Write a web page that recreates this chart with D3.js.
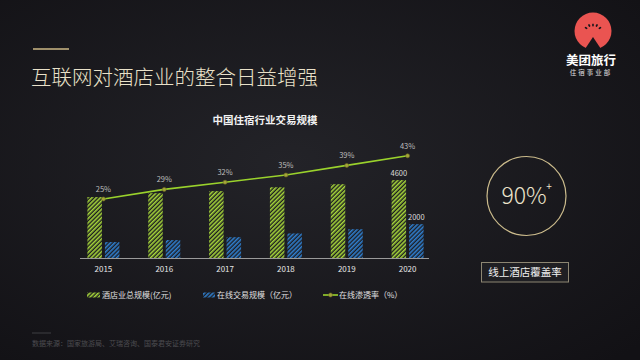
<!DOCTYPE html>
<html><head><meta charset="utf-8">
<script src="https://cdn.jsdelivr.net/npm/d3@7"></script>
<style>
html,body{margin:0;padding:0;background:#17161b;}
svg{display:block;font-family:"Noto Sans CJK SC","Noto Sans",sans-serif;}
</style></head>
<body>
<script>
const years = ['2015','2016','2017','2018','2019','2020'];
const hotelTotal = [3600, 3830, 3950, 4180, 4360, 4600];
const onlineVolume = [940, 1060, 1230, 1450, 1700, 2000];
const penetration = [25, 29, 32, 35, 39, 43];
const labeledBars = ['2020'];
const legendLabels = ['酒店业总规模(亿元)', '在线交易规模（亿元）', '在线渗透率（%）'];

const W = 640, H = 360;
const svg = d3.select('body').append('svg').attr('width', W).attr('height', H);
const defs = svg.append('defs');

const bg = defs.append('radialGradient').attr('id','bg').attr('cx','45%').attr('cy','45%').attr('r','75%');
bg.append('stop').attr('offset','0%').attr('stop-color','#232328');
bg.append('stop').attr('offset','100%').attr('stop-color','#121115');
svg.append('rect').attr('width',W).attr('height',H).attr('fill','url(#bg)');

function hatch(id, color){
  const p = defs.append('pattern').attr('id',id).attr('patternUnits','userSpaceOnUse')
    .attr('width',3).attr('height',3).attr('patternTransform','rotate(45)');
  p.append('rect').attr('width',3).attr('height',3).attr('fill','#1c1c20');
  p.append('rect').attr('width',1.6).attr('height',3).attr('fill',color);
}
hatch('hg','#a6d63a');
hatch('hb','#2f7fd0');

// header
svg.append('line').attr('x1',33).attr('x2',69).attr('y1',49).attr('y2',49).attr('stroke','#cdb886').attr('stroke-width',1.5);
svg.append('text').attr('x',31).attr('y',85).attr('font-size',20.5).attr('font-weight',300)
  .attr('fill','#e9e1c9').text('互联网对酒店业的整合日益增强');

// logo
const lg = svg.append('g');
lg.append('circle').attr('cx',593).attr('cy',31).attr('r',18.5).attr('fill','#ea5451');
lg.append('path').attr('d','M593,37 L583,52 L603,52 Z').attr('fill','#17161b');
[[-60,8],[-30,7.5],[0,7],[30,7.5],[60,8]].forEach(([a,r])=>{
  const rad = (a-90)*Math.PI/180;
  lg.append('ellipse').attr('cx',593+r*Math.cos(rad)).attr('cy',32+r*Math.sin(rad))
    .attr('rx',1.5).attr('ry',0.9).attr('fill','#17161b')
    .attr('transform',`rotate(${a+90},${593+r*Math.cos(rad)},${32+r*Math.sin(rad)})`);
});
lg.append('text').attr('x',591).attr('y',64.5).attr('text-anchor','middle').attr('font-size',12.5)
  .attr('font-weight',700).attr('fill','#ffffff').text('美团旅行');
lg.append('text').attr('x',591).attr('y',75).attr('text-anchor','middle').attr('font-size',6.5)
  .attr('letter-spacing',2).attr('fill','#e0e0e0').text('住宿事业部');

// chart
const baseY = 258;
const x = d3.scaleBand().domain(years).range([73, 438]).paddingInner(0).paddingOuter(0);
const y = d3.scaleLinear().domain([0, 7000]).range([baseY, baseY - 118.5]);
const y2 = d3.scaleLinear().domain([0, 50]).range([baseY + 1, baseY + 1 - 120]);
const barW = 14.5, gap = 3;

svg.append('text').attr('x',265).attr('y',124).attr('text-anchor','middle').attr('font-size',10.5)
  .attr('font-weight',700).attr('fill','#f2f2f2').text('中国住宿行业交易规模');

const cx = d => x(d) + x.bandwidth()/2;

svg.append('g').selectAll('rect').data(years).join('rect')
  .attr('x', d => cx(d) - gap/2 - barW).attr('width', barW)
  .attr('y', (d,i) => y(hotelTotal[i])).attr('height', (d,i) => baseY - y(hotelTotal[i]))
  .attr('fill','url(#hg)');
svg.append('g').selectAll('rect').data(years).join('rect')
  .attr('x', d => cx(d) + gap/2).attr('width', barW)
  .attr('y', (d,i) => y(onlineVolume[i])).attr('height', (d,i) => baseY - y(onlineVolume[i]))
  .attr('fill','url(#hb)');

// x axis
const xa = svg.append('g').attr('transform',`translate(0,${baseY})`)
  .call(d3.axisBottom(x).tickSize(0).tickPadding(8));
xa.select('.domain').attr('stroke','#9a9a9a').attr('d','M80,0.5H429');
xa.selectAll('text').attr('fill','#e6e6e6').attr('font-size',8).attr('font-family','"Noto Sans CJK SC",sans-serif');

// bar labels
years.forEach((d,i)=>{
  if(!labeledBars.includes(d)) return;
  svg.append('text').attr('x', cx(d) - gap/2 - barW/2).attr('y', y(hotelTotal[i]) - 4.5)
    .attr('text-anchor','middle').attr('font-size',7.5).attr('fill','#dcdcdc').text(hotelTotal[i]);
  svg.append('text').attr('x', cx(d) + gap/2 + barW/2).attr('y', y(onlineVolume[i]) - 4.5)
    .attr('text-anchor','middle').attr('font-size',7.5).attr('fill','#dcdcdc').text(onlineVolume[i]);
});

// line
const line = d3.line().x(d => cx(d)).y((d,i) => y2(penetration[i]));
svg.append('path').datum(years).attr('d', line).attr('fill','none').attr('stroke','#9ad22c').attr('stroke-width',1.6);
svg.append('g').selectAll('circle').data(years).join('circle')
  .attr('cx', d => cx(d)).attr('cy', (d,i) => y2(penetration[i])).attr('r',2)
  .attr('fill','#a4a43a').attr('stroke','#6f7020').attr('stroke-width',0.6);
svg.append('g').selectAll('text').data(years).join('text')
  .attr('x', d => cx(d)).attr('y', (d,i) => y2(penetration[i]) - 7)
  .attr('text-anchor','middle').attr('font-size',7.5).attr('fill','#bdbdbd')
  .text((d,i) => penetration[i] + '%');

// legend
const legY = 295;
svg.append('rect').attr('x',87).attr('y',legY-2.5).attr('width',13).attr('height',5).attr('fill','url(#hg)');
svg.append('text').attr('x',102).attr('y',legY+3).attr('font-size',8).attr('fill','#e0e0e0').text(legendLabels[0]);
svg.append('rect').attr('x',203).attr('y',legY-2.5).attr('width',12).attr('height',5).attr('fill','url(#hb)');
svg.append('text').attr('x',217).attr('y',legY+3).attr('font-size',8).attr('fill','#e0e0e0').text(legendLabels[1]);
svg.append('line').attr('x1',323).attr('x2',338).attr('y1',legY).attr('y2',legY).attr('stroke','#9ad22c').attr('stroke-width',1.6);
svg.append('circle').attr('cx',330.5).attr('cy',legY).attr('r',2).attr('fill','#a4a43a').attr('stroke','#6f7020').attr('stroke-width',0.6);
svg.append('text').attr('x',339).attr('y',legY+3).attr('font-size',8).attr('fill','#e0e0e0').text(legendLabels[2]);

// right KPI
svg.append('circle').attr('cx',526.5).attr('cy',196).attr('r',39.5).attr('fill','none').attr('stroke','#cbbb8c').attr('stroke-width',1.2);
svg.append('text').attr('x',524).attr('y',203.5).attr('text-anchor','middle').attr('font-size',23).attr('font-weight',300)
  .attr('fill','#ece4cc').text('90%');
svg.append('text').attr('x',549).attr('y',190).attr('text-anchor','middle').attr('font-size',10)
  .attr('fill','#ece4cc').text('+');
svg.append('rect').attr('x',481.5).attr('y',262.5).attr('width',87).attr('height',19.5)
  .attr('fill','#1f1f23').attr('stroke','#8d8672').attr('stroke-width',1);
svg.append('text').attr('x',525).attr('y',276).attr('text-anchor','middle').attr('font-size',10.5)
  .attr('fill','#f0f0f0').text('线上酒店覆盖率');

// footer
svg.append('line').attr('x1',32).attr('x2',51).attr('y1',333).attr('y2',333).attr('stroke','#3e3e42').attr('stroke-width',1);
svg.append('text').attr('x',32).attr('y',346).attr('font-size',7).attr('fill','#4c4c50')
  .text('数据来源：国家旅游局、艾瑞咨询、国泰君安证券研究');
</script>
</body></html>
